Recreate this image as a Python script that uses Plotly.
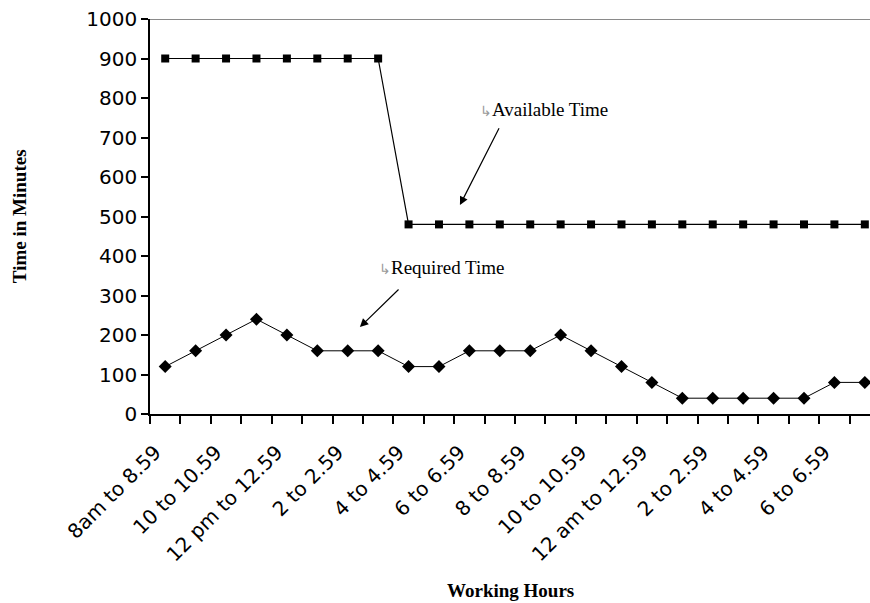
import plotly.graph_objects as go

hours = ["8am to 8.59", "9 to 9.59", "10 to 10.59", "11 to 11.59", "12 pm to 12.59",
         "1 to 1.59", "2 to 2.59", "3 to 3.59", "4 to 4.59", "5 to 5.59",
         "6 to 6.59", "7 to 7.59", "8 to 8.59", "9 to 9.59", "10 to 10.59",
         "11 to 11.59", "12 am to 12.59", "1 to 1.59", "2 to 2.59", "3 to 3.59",
         "4 to 4.59", "5 to 5.59", "6 to 6.59", "7 to 7.59"]
available_time = [900, 900, 900, 900, 900, 900, 900, 900,
                  480, 480, 480, 480, 480, 480, 480, 480,
                  480, 480, 480, 480, 480, 480, 480, 480]
required_time = [120, 160, 200, 240, 200, 160, 160, 160, 120, 120, 160, 160,
                 160, 200, 160, 120, 80, 40, 40, 40, 40, 40, 80, 80]
y_ticks = [0, 100, 200, 300, 400, 500, 600, 700, 800, 900, 1000]

idx = list(range(len(hours)))
label_idx = idx[::2]
label_text = [hours[i] for i in label_idx]
label_pos = [i - 0.33 for i in label_idx]

fig = go.Figure()
fig.add_trace(go.Scatter(
    x=idx, y=available_time, mode="lines+markers",
    line=dict(color="black", width=1.2),
    marker=dict(symbol="square", size=8, color="black"),
    cliponaxis=False, showlegend=False, name="Available Time"))
fig.add_trace(go.Scatter(
    x=idx, y=required_time, mode="lines+markers",
    line=dict(color="black", width=1),
    marker=dict(symbol="diamond", size=10, color="black"),
    cliponaxis=False, showlegend=False, name="Required Time"))

tick_font = dict(family="DejaVu Sans", size=20, color="black")
serif = "Liberation Serif"

fig.update_layout(
    width=870, height=603,
    margin=dict(l=150, r=0, t=19, b=189),
    paper_bgcolor="white", plot_bgcolor="white",
    xaxis=dict(
        range=[-0.5, 23.17], showgrid=False, zeroline=False, automargin=False,
        showline=True, linecolor="black", linewidth=1.5,
        tickmode="array", tickvals=label_pos, ticktext=label_text,
        ticks="", tickangle=-45, tickfont=tick_font, ticklabelstandoff=17,
        minor=dict(ticks="outside", tick0=-0.5, dtick=1, ticklen=8,
                   tickwidth=1.5, tickcolor="black", showgrid=False),
    ),
    yaxis=dict(
        range=[0, 1000], showgrid=False, zeroline=False, automargin=False,
        showline=True, linecolor="black", linewidth=1.5,
        tickmode="array", tickvals=y_ticks,
        ticks="outside", ticklen=7, tickwidth=1.5, tickcolor="black",
        tickfont=tick_font,
    ),
    shapes=[dict(type="line", xref="paper", yref="y", x0=0, x1=1, y0=1000, y1=1000,
                 line=dict(color="#8a8a8a", width=2))],
)

# axis titles
fig.add_annotation(text="<b>Time in Minutes</b>", xref="paper", yref="paper",
                   x=-0.181, y=0.5, xanchor="center", yanchor="middle",
                   textangle=-90, showarrow=False,
                   font=dict(family=serif, size=19, color="black"))
fig.add_annotation(text="<b>Working Hours</b>", xref="paper", yref="paper",
                   x=0.501, y=-0.4456, xanchor="center", yanchor="middle",
                   showarrow=False, font=dict(family=serif, size=19, color="black"))

# callouts
fig.add_annotation(text="<span style='color:#9a9a9a;font-size:14px'>↳</span>Available Time",
                   x=10.27, y=770, xref="x", yref="y", xanchor="left", yanchor="middle",
                   showarrow=False, font=dict(family=serif, size=19, color="black"))
fig.add_annotation(text="", x=9.69, y=529, ax=11.0, ay=727, xref="x", yref="y",
                   axref="x", ayref="y", showarrow=True, arrowhead=2, arrowsize=1.4,
                   arrowwidth=1.2, arrowcolor="black")
fig.add_annotation(text="<span style='color:#9a9a9a;font-size:14px'>↳</span>Required Time",
                   x=6.97, y=370, xref="x", yref="y", xanchor="left", yanchor="middle",
                   showarrow=False, font=dict(family=serif, size=19, color="black"))
fig.add_annotation(text="", x=6.40, y=220, ax=7.72, ay=319, xref="x", yref="y",
                   axref="x", ayref="y", showarrow=True, arrowhead=2, arrowsize=1.4,
                   arrowwidth=1.2, arrowcolor="black")

fig.write_html("out.html", config={"displayModeBar": False},
               post_script="document.body.style.margin='0';")
